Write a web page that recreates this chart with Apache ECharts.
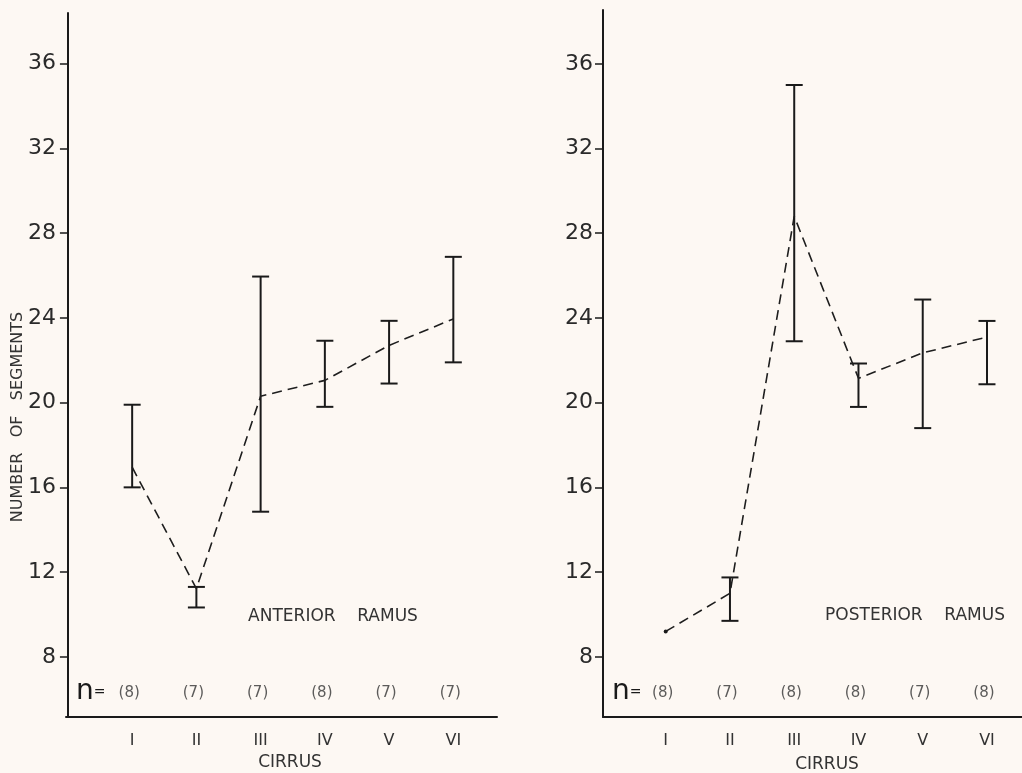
<!DOCTYPE html>
<html>
<head>
<meta charset="utf-8">
<script src="https://cdn.jsdelivr.net/npm/echarts@6/dist/echarts.min.js"></script>
<style>
html,body{margin:0;padding:0;background:#fdf8f3;}
#chart{width:1022px;height:773px;}
</style>
</head>
<body>
<div id="chart"></div>
<script>
const cirrus = ['I', 'II', 'III', 'IV', 'V', 'VI'];
const yTicks = [8, 12, 16, 20, 24, 28, 32, 36];

const anteriorMean = [16.95, 11.22, 20.3, 21.05, 22.7, 23.95];
const anteriorLow  = [16.0, 10.33, 14.85, 19.8, 20.9, 21.9];
const anteriorHigh = [19.9, 11.3, 25.95, 22.92, 23.86, 26.88];
const anteriorN    = [8, 7, 7, 8, 7, 7];

const posteriorMean = [9.2, 11.0, 28.8, 21.15, 22.35, 23.1];
const posteriorLow  = [null, 9.7, 22.9, 19.8, 18.8, 20.87];
const posteriorHigh = [null, 11.75, 35.0, 21.85, 24.87, 23.86];
const posteriorN    = [8, 7, 8, 8, 7, 8];

const INK = '#1a1a1a';
const TXT = '#2a2a2a';
const FONT = 'DejaVu Sans';
const N_Y = 6.28;

function errData(lo, hi) {
  const out = [];
  lo.forEach((v, i) => { if (v != null && hi[i] != null) out.push([i + 1, v, hi[i]]); });
  return out;
}
function renderErr(params, api) {
  const x = api.value(0);
  const p1 = api.coord([x, api.value(1)]);
  const p2 = api.coord([x, api.value(2)]);
  const w = 8.5;
  const st = { stroke: INK, lineWidth: 2 };
  return {
    type: 'group',
    children: [
      { type: 'line', shape: { x1: p1[0], y1: p1[1], x2: p2[0], y2: p2[1] }, style: st },
      { type: 'line', shape: { x1: p1[0] - w, y1: p1[1], x2: p1[0] + w, y2: p1[1] }, style: st },
      { type: 'line', shape: { x1: p2[0] - w, y1: p2[1], x2: p2[0] + w, y2: p2[1] }, style: st }
    ]
  };
}
function xAxisCfg(idx, min, max) {
  return {
    type: 'value', gridIndex: idx, min: min, max: max,
    axisLine: { show: true, lineStyle: { color: INK, width: 2 } },
    axisTick: { show: false },
    splitLine: { show: false },
    axisLabel: {
      customValues: [1, 2, 3, 4, 5, 6],
      formatter: v => cirrus[Math.round(v) - 1] || '',
      color: '#333', fontFamily: FONT, fontSize: 16, margin: 16
    }
  };
}
function yAxisCfg(idx, max) {
  return {
    type: 'value', gridIndex: idx, min: 5.16, max: max,
    axisLine: { show: true, lineStyle: { color: INK, width: 2 } },
    axisTick: { show: true, customValues: yTicks, length: 8, inside: false, lineStyle: { color: INK, width: 1.5 } },
    splitLine: { show: false },
    axisLabel: { customValues: yTicks, color: TXT, fontFamily: FONT, fontSize: 22, margin: 10 }
  };
}
function meanSeries(idx, means, firstDot) {
  return {
    type: 'line', xAxisIndex: idx, yAxisIndex: idx,
    data: means.map((v, i) => (i === 0 && firstDot)
      ? { value: [i + 1, v], symbol: 'circle', symbolSize: 4, itemStyle: { color: INK } }
      : { value: [i + 1, v], symbol: 'none' }),
    showSymbol: true, symbol: 'none',
    lineStyle: { color: '#1e1e1e', width: 1.6, type: [10, 6] },
    z: 3, silent: true, animation: false
  };
}
function nSeries(idx, ns) {
  return {
    type: 'scatter', xAxisIndex: idx, yAxisIndex: idx,
    data: ns.map((n, i) => ({ value: [i + 1, N_Y], name: '(' + n + ')' })),
    symbolSize: 1, itemStyle: { color: 'rgba(0,0,0,0)' },
    label: { show: true, position: 'inside', formatter: p => p.name, color: '#333', fontFamily: FONT, fontSize: 15, offset: [-3, 0] },
    silent: true, animation: false
  };
}

const chart = echarts.init(document.getElementById('chart'), null, { renderer: 'canvas' });
chart.setOption({
  backgroundColor: '#fdf8f3',
  animation: false,
  grid: [
    { left: 66, top: 13, width: 431, bottom: 56, containLabel: false },
    { left: 603, top: 10, right: 0, bottom: 56, containLabel: false }
  ],
  xAxis: [xAxisCfg(0, -0.03, 6.68), xAxisCfg(1, 0.024, 6.545)],
  yAxis: [yAxisCfg(0, 38.39), yAxisCfg(1, 38.54)],
  series: [
    { type: 'custom', xAxisIndex: 0, yAxisIndex: 0, renderItem: renderErr, data: errData(anteriorLow, anteriorHigh), z: 2, silent: true },
    meanSeries(0, anteriorMean, false),
    nSeries(0, anteriorN),
    { type: 'custom', xAxisIndex: 1, yAxisIndex: 1, renderItem: renderErr, data: errData(posteriorLow, posteriorHigh), z: 2, silent: true },
    meanSeries(1, posteriorMean, true),
    nSeries(1, posteriorN)
  ],
  graphic: [
    { type: 'text', x: 18, y: 417, rotation: Math.PI / 2,
      style: { text: 'NUMBER   OF   SEGMENTS', fill: '#333', font: '16px "DejaVu Sans"', align: 'center', verticalAlign: 'middle' } },
    { type: 'text', x: 333, y: 617,
      style: { text: 'ANTERIOR    RAMUS', fill: '#333', font: '17px "DejaVu Sans"', align: 'center', verticalAlign: 'middle' } },
    { type: 'text', x: 915, y: 616,
      style: { text: 'POSTERIOR    RAMUS', fill: '#333', font: '17px "DejaVu Sans"', align: 'center', verticalAlign: 'middle' } },
    { type: 'text', x: 290, y: 763,
      style: { text: 'CIRRUS', fill: '#333', font: '17px "DejaVu Sans"', align: 'center', verticalAlign: 'middle' } },
    { type: 'text', x: 827, y: 765,
      style: { text: 'CIRRUS', fill: '#333', font: '17px "DejaVu Sans"', align: 'center', verticalAlign: 'middle' } },
    { type: 'text', x: 76, y: 692,
      style: { text: '{a|n}{b|=}', align: 'left', verticalAlign: 'middle',
        rich: { a: { fontSize: 28, fontFamily: FONT, fill: INK }, b: { fontSize: 14, fontFamily: FONT, fill: INK } } } },
    { type: 'text', x: 612, y: 692,
      style: { text: '{a|n}{b|=}', align: 'left', verticalAlign: 'middle',
        rich: { a: { fontSize: 28, fontFamily: FONT, fill: INK }, b: { fontSize: 14, fontFamily: FONT, fill: INK } } } }
  ]
});
</script>
</body>
</html>
